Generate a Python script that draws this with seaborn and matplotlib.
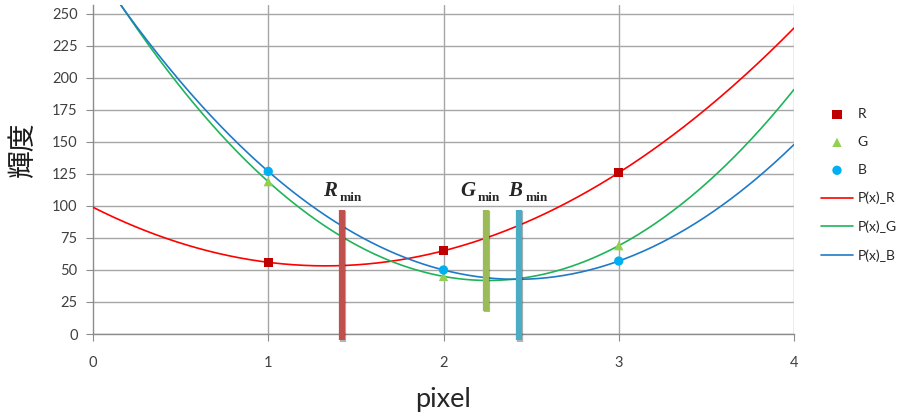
import numpy as np
import pandas as pd
import matplotlib
matplotlib.use("Agg")
import matplotlib.pyplot as plt
import matplotlib.patheffects as pe
import seaborn as sns

# measured pixel values
pixels = [1, 2, 3]
r_vals = [56, 65, 126]
g_vals = [119, 45, 69]
b_vals = [127, 50, 57]

# vertical markers for the minimum positions
min_names = ["R", "G", "B"]
min_x = [1.42, 2.24, 2.43]
min_top = [97, 97, 97]
min_bottom = [-5, 18, -5]
min_colors = ["#C0504D", "#9BBB59", "#4BACC6"]
label_x = [1.35, 2.14, 2.41]
label_y = [112, 112, 112]

sns.set_style("whitegrid")
plt.rcParams["font.family"] = ["Lato", "Noto Sans CJK JP", "DejaVu Sans"]

fig = plt.figure(figsize=(8.97, 4.19), dpi=100)
ax = fig.add_axes([93 / 897, 1 - 334 / 419, 701 / 897, 329 / 419])

series = [
    ("R", r_vals, "s", "#C00000", "#FF0000"),
    ("G", g_vals, "^", "#92D050", "#1FB45A"),
    ("B", b_vals, "o", "#00B0F0", "#1F7AC8"),
]

xs = np.linspace(0, 4, 400)
point_handles = []
line_handles = []
for name, vals, marker, mcol, lcol in series:
    # quadratic fit P(x) through the three measured points
    coef = np.polyfit(pixels, vals, 2)
    curve = pd.DataFrame({"x": xs, "y": np.polyval(coef, xs)})
    sns.lineplot(data=curve, x="x", y="y", ax=ax, color=lcol, lw=1.2,
                 label=f"P(x)_{name}", zorder=3)
    line_handles.append(ax.lines[-1])
    pts = pd.DataFrame({"x": pixels, "y": vals})
    sns.scatterplot(data=pts, x="x", y="y", ax=ax, marker=marker,
                    color=mcol, s=45, edgecolor="none", label=name, zorder=4)
    point_handles.append(ax.collections[-1])

if ax.legend_:
    ax.legend_.remove()

for x, top, bot, col in zip(min_x, min_top, min_bottom, min_colors):
    ax.vlines(x, bot, top, colors=col, lw=4.5, clip_on=False, zorder=5,
              path_effects=[pe.SimpleLineShadow(offset=(1, -1), alpha=0.3),
                            pe.Normal()])

for name, x, y in zip(min_names, label_x, label_y):
    ax.text(x, y, name, fontfamily="Liberation Serif", fontstyle="italic",
            fontweight="bold", fontsize=15, ha="center", va="center", zorder=6)
    ax.text(x + 0.12, y - 6, "min", fontfamily="Liberation Serif",
            fontweight="bold", fontsize=9.5, ha="center", va="center", zorder=6)

ax.set_xlim(0, 4)
ax.set_ylim(0, 257)
ax.set_xticks([0, 1, 2, 3, 4])
ax.set_yticks(np.arange(0, 251, 25))
ax.grid(True, color="#A6A6A6", lw=1)
ax.grid(False, axis="x")
for x in [1, 2, 3, 4]:
    ax.axvline(x, color="#A6A6A6", lw=1, zorder=0)
for side in ["top", "right"]:
    ax.spines[side].set_visible(False)
for side in ["left", "bottom"]:
    ax.spines[side].set_color("#8C8C8C")
    ax.spines[side].set_linewidth(1)
ax.tick_params(axis="both", length=5, color="#8C8C8C", labelsize=10.5,
               labelcolor="#404040", direction="out")
ax.tick_params(axis="x", pad=11)
ax.tick_params(axis="y", pad=6)
ax.tick_params(left=True, bottom=True)

ax.set_xlabel("pixel", fontsize=19.5, color="#262626", labelpad=12)
ax.set_ylabel("輝度", fontsize=20, fontfamily=["Noto Sans CJK JP"],
              color="#1a1a1a")
ax.yaxis.set_label_coords(-0.078, 0.56)

fig.legend(point_handles + line_handles,
           ["R", "G", "B", "P(x)_R", "P(x)_G", "P(x)_B"],
           loc="upper left", bbox_to_anchor=(821 / 897, 1 - 108 / 419),
           frameon=False, fontsize=10, labelspacing=1.15,
           handlelength=2.3, handletextpad=0.35, borderpad=0,
           borderaxespad=0, labelcolor="#262626")

fig.savefig("out.png", dpi=100)
